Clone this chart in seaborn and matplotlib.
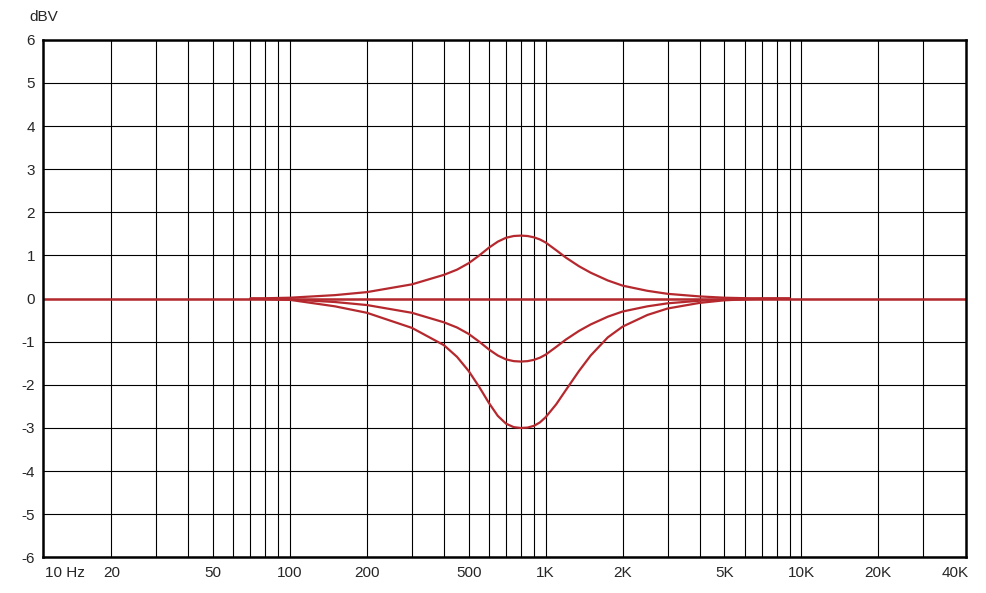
import matplotlib
matplotlib.use("Agg")
import matplotlib.pyplot as plt
import seaborn as sns
import pandas as pd

sns.set_style("white")
plt.rcParams['font.family'] = ['Liberation Sans', 'DejaVu Sans']
plt.rcParams['axes.unicode_minus'] = False

flat_f = [10, 45000]
flat_db = [0, 0]
freq = [70, 100, 150, 200, 300, 400, 450, 500, 550, 600, 650, 700, 750, 800, 850, 900, 950, 1000, 1100, 1200, 1350, 1500, 1750, 2000, 2500, 3000, 4000, 5000, 7000, 9000]
boost = [0, 0.02, 0.08, 0.15, 0.33, 0.55, 0.67, 0.82, 1.0, 1.18, 1.32, 1.41, 1.45, 1.46, 1.45, 1.42, 1.37, 1.3, 1.12, 0.95, 0.75, 0.6, 0.42, 0.3, 0.18, 0.11, 0.05, 0.02, 0.0, 0]
cut1 = [-b for b in boost]
cut2 = [0, -0.03, -0.18, -0.33, -0.68, -1.08, -1.35, -1.68, -2.05, -2.42, -2.72, -2.9, -2.98, -3.0, -2.99, -2.95, -2.87, -2.75, -2.45, -2.12, -1.68, -1.32, -0.9, -0.65, -0.38, -0.23, -0.1, -0.04, 0, 0]

xticks = [13.2, 20, 50, 100, 200, 500, 1000, 2000, 5000, 10000, 20000, 40000]
xlabels = ["10 Hz", "20", "50", "100", "200", "500", "1K", "2K", "5K", "10K", "20K", "40K"]
yticks = list(range(-6, 7))

fig, ax = plt.subplots(figsize=(9.87, 5.93), dpi=100)
fig.subplots_adjust(left=0.044, right=0.979, top=0.933, bottom=0.06)
col = "#b5292e"
sns.lineplot(x=flat_f, y=flat_db, ax=ax, color=col, lw=1.8)
for s in (boost, cut1, cut2):
    df = pd.DataFrame({"f": freq, "db": s})
    sns.lineplot(data=df, x="f", y="db", ax=ax, color=col, lw=1.6, sort=False)
ax.set_xscale("log")
ax.set_xlim(10.85, 44200)
ax.set_ylim(-6, 6)
grid = list(range(20, 101, 10)) + list(range(200, 1001, 100)) + list(range(2000, 10001, 1000)) + [20000, 30000]
for g in grid:
    ax.axvline(g, color="black", lw=0.8, zorder=0)
for y in yticks:
    ax.axhline(y, color="black", lw=0.8, zorder=0)
ax.set_xticks(xticks)
ax.set_xticklabels(xlabels)
ax.minorticks_off()
ax.set_yticks(yticks)
ax.tick_params(length=0, labelsize=11, pad=6)
for sp in ax.spines.values():
    sp.set_visible(True)
    sp.set_color("black")
    sp.set_linewidth(1.8)
ax.set_xlabel("")
ax.set_ylabel("")
fig.text(0.03, 0.965, "dBV", fontsize=11)
fig.savefig("out.png")
